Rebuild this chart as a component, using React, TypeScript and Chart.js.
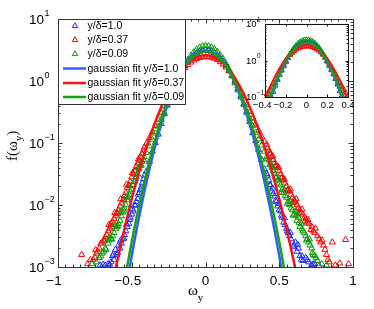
import React, { useEffect, useRef } from 'react';
import { Chart, registerables } from 'chart.js';

Chart.register(...registerables);

// ---------- data (x = omega_y, y = f(omega_y)) ----------
const blueData: number[][] = [
  [-0.40,0.035],[-0.38,0.050],[-0.36,0.073],[-0.34,0.101],[-0.32,0.138],[-0.30,0.205],[-0.28,0.295],[-0.26,0.41],[-0.24,0.555],[-0.22,0.73],
  [-0.20,0.94],[-0.18,1.18],[-0.16,1.45],[-0.14,1.74],[-0.12,2.03],[-0.10,2.32],[-0.08,2.6],[-0.06,2.82],[-0.04,3.0],[-0.02,3.1],
  [0,3.16],[0.02,3.13],[0.04,3.03],[0.06,2.86],[0.08,2.63],[0.10,2.36],[0.12,2.07],[0.14,1.77],[0.16,1.48],[0.18,1.21],
  [0.20,0.965],[0.22,0.75],[0.24,0.57],[0.26,0.425],[0.28,0.31],[0.30,0.22],[0.32,0.145],[0.34,0.108],[0.36,0.078],[0.38,0.054],[0.40,0.038],
  [0.42,0.030],[0.43,0.0251],[0.44,0.0209],[0.45,0.0166],[0.46,0.0151],[0.47,0.0138],[0.48,0.0112],[0.49,0.00955],[0.50,0.00832],[0.51,0.00794],
  [0.52,0.00631],[0.53,0.00525],[0.54,0.00479],[0.55,0.00417],[0.56,0.00355],[0.57,0.00316],[0.58,0.00282],[0.60,0.00224],[0.61,0.00251],[0.62,0.00178],
  [0.63,0.0020],[0.64,0.00151],[0.65,0.00132],[0.66,0.00126],[0.68,0.00141],[0.70,0.0012],[0.72,0.00107],[0.74,0.00112],[0.77,0.00105],
  [0.415,0.032],[0.435,0.021],[0.455,0.0185],[0.475,0.0118],[0.495,0.0105],[0.515,0.0068],[0.535,0.0062],[0.555,0.0038],[0.575,0.0036],[0.595,0.0021],
  [0.625,0.0023],[0.655,0.0015],[0.69,0.0013],[0.73,0.0011],
  [-0.42,0.0263],[-0.43,0.0224],[-0.44,0.0178],[-0.45,0.0158],[-0.46,0.0126],[-0.47,0.0112],[-0.48,0.010],[-0.49,0.00794],[-0.50,0.00708],[-0.51,0.00631],
  [-0.52,0.00501],[-0.53,0.00447],[-0.54,0.0038],[-0.55,0.00331],[-0.56,0.00282],[-0.57,0.0024],[-0.58,0.0020],[-0.59,0.00224],[-0.60,0.00158],[-0.61,0.00191],
  [-0.62,0.00132],[-0.63,0.00151],[-0.64,0.0012],[-0.66,0.00112],[-0.68,0.00107],[-0.715,0.00107],
  [-0.415,0.030],[-0.435,0.0195],[-0.455,0.0148],[-0.475,0.0098],[-0.495,0.0086],[-0.515,0.0058],[-0.535,0.0049],[-0.555,0.0029],[-0.575,0.0027],[-0.595,0.0017],
  [-0.625,0.0016],[-0.65,0.0011],[-0.695,0.0011],
];

const redData: number[][] = [
  [-0.40,0.098],[-0.38,0.121],[-0.36,0.151],[-0.34,0.19],[-0.32,0.24],[-0.30,0.305],[-0.28,0.395],[-0.26,0.51],[-0.24,0.65],[-0.22,0.81],
  [-0.20,1.0],[-0.18,1.2],[-0.16,1.41],[-0.14,1.62],[-0.12,1.82],[-0.10,2.0],[-0.08,2.16],[-0.06,2.29],[-0.04,2.38],[-0.02,2.43],
  [0,2.45],[0.02,2.44],[0.04,2.4],[0.06,2.31],[0.08,2.19],[0.10,2.03],[0.12,1.86],[0.14,1.66],[0.16,1.44],[0.18,1.23],
  [0.20,1.02],[0.22,0.83],[0.24,0.67],[0.26,0.53],[0.28,0.41],[0.30,0.32],[0.32,0.252],[0.34,0.2],[0.36,0.159],[0.38,0.128],[0.40,0.104],
  [0.42,0.0832],[0.43,0.0759],[0.44,0.0661],[0.45,0.0603],[0.46,0.0537],[0.47,0.0479],[0.48,0.0437],[0.49,0.0398],[0.50,0.0355],[0.51,0.0316],
  [0.52,0.0282],[0.53,0.0251],[0.54,0.0224],[0.55,0.020],[0.56,0.0178],[0.57,0.0166],[0.58,0.0148],[0.59,0.0132],[0.60,0.012],[0.61,0.0112],
  [0.62,0.010],[0.63,0.00891],[0.64,0.00832],[0.65,0.00759],[0.66,0.00708],[0.67,0.00631],[0.68,0.00603],[0.69,0.00525],[0.70,0.00501],[0.72,0.00447],
  [0.73,0.0038],[0.74,0.00355],[0.76,0.00316],[0.77,0.00282],[0.78,0.00251],[0.80,0.00224],[0.81,0.00191],[0.82,0.00158],[0.83,0.00132],[0.84,0.0012],
  [0.86,0.00251],[0.88,0.00107],[0.91,0.00115],[0.95,0.00275],[0.97,0.00112],
  [0.415,0.095],[0.435,0.068],[0.455,0.062],[0.475,0.043],[0.495,0.041],[0.515,0.027],[0.535,0.026],[0.555,0.017],[0.575,0.018],[0.595,0.0108],
  [0.615,0.0125],[0.635,0.0075],[0.655,0.0085],[0.675,0.0055],[0.695,0.0058],[0.715,0.0040],[0.745,0.0042],[0.79,0.0027],
  [-0.42,0.0759],[-0.43,0.0676],[-0.44,0.0603],[-0.45,0.0525],[-0.46,0.0468],[-0.47,0.0417],[-0.48,0.0355],[-0.49,0.0316],[-0.50,0.0282],[-0.51,0.024],
  [-0.52,0.0209],[-0.53,0.0191],[-0.54,0.0158],[-0.55,0.0141],[-0.56,0.012],[-0.57,0.0107],[-0.58,0.00955],[-0.59,0.00832],[-0.60,0.00759],[-0.61,0.00661],
  [-0.62,0.00603],[-0.63,0.00525],[-0.64,0.00501],[-0.65,0.00417],[-0.66,0.0038],[-0.67,0.00331],[-0.68,0.00302],[-0.69,0.00263],[-0.70,0.00251],[-0.72,0.0020],
  [-0.73,0.00178],[-0.74,0.00166],[-0.75,0.00141],[-0.76,0.00132],[-0.80,0.00112],[-0.84,0.00158],
  [-0.415,0.085],[-0.435,0.058],[-0.455,0.055],[-0.475,0.036],[-0.495,0.033],[-0.515,0.0205],[-0.535,0.0215],[-0.555,0.0122],[-0.575,0.0125],[-0.595,0.0072],
  [-0.615,0.0075],[-0.635,0.0045],[-0.655,0.0048],[-0.685,0.0027],[-0.71,0.0024],[-0.745,0.0019],[-0.78,0.0013],
];

const greenData: number[][] = [
  [-0.40,0.070],[-0.38,0.089],[-0.36,0.112],[-0.34,0.143],[-0.32,0.185],[-0.30,0.238],[-0.28,0.31],[-0.26,0.405],[-0.24,0.53],[-0.22,0.70],
  [-0.20,0.90],[-0.18,1.17],[-0.16,1.49],[-0.14,1.84],[-0.12,2.21],[-0.10,2.57],[-0.08,2.92],[-0.06,3.24],[-0.04,3.48],[-0.02,3.65],
  [0,3.72],[0.02,3.69],[0.04,3.53],[0.06,3.3],[0.08,2.98],[0.10,2.63],[0.12,2.26],[0.14,1.88],[0.16,1.53],[0.18,1.2],
  [0.20,0.925],[0.22,0.715],[0.24,0.545],[0.26,0.418],[0.28,0.322],[0.30,0.246],[0.32,0.19],[0.34,0.148],[0.36,0.116],[0.38,0.092],[0.40,0.073],
  [0.42,0.0562],[0.43,0.0525],[0.44,0.0447],[0.45,0.0417],[0.46,0.0355],[0.47,0.0316],[0.48,0.0282],[0.49,0.0251],[0.50,0.0224],[0.51,0.0209],
  [0.52,0.0178],[0.53,0.0158],[0.54,0.0141],[0.55,0.0132],[0.56,0.0112],[0.57,0.010],[0.58,0.00891],[0.59,0.00832],[0.60,0.00708],[0.61,0.00794],
  [0.62,0.00562],[0.63,0.00631],[0.64,0.00447],[0.65,0.00501],[0.66,0.0038],[0.67,0.00355],[0.68,0.00316],[0.69,0.00282],[0.70,0.00251],[0.71,0.00224],
  [0.72,0.0020],[0.73,0.00158],[0.74,0.00151],[0.76,0.00126],[0.79,0.00112],[0.82,0.00107],
  [0.415,0.060],[0.435,0.045],[0.455,0.040],[0.475,0.028],[0.495,0.026],[0.515,0.016],[0.535,0.0175],[0.555,0.0105],[0.575,0.0115],[0.595,0.0068],
  [0.615,0.0068],[0.635,0.0052],[0.655,0.0041],[0.685,0.0027],[0.705,0.0028],[0.725,0.0017],[0.75,0.0014],
  [-0.42,0.0537],[-0.43,0.0501],[-0.44,0.0427],[-0.45,0.038],[-0.46,0.0316],[-0.47,0.0282],[-0.48,0.024],[-0.49,0.0209],[-0.50,0.0178],[-0.51,0.0166],
  [-0.52,0.0132],[-0.53,0.012],[-0.54,0.010],[-0.55,0.00891],[-0.56,0.00759],[-0.57,0.00661],[-0.58,0.00562],[-0.59,0.00501],[-0.60,0.00447],[-0.61,0.00417],
  [-0.62,0.00355],[-0.63,0.00316],[-0.64,0.00282],[-0.65,0.00302],[-0.66,0.0024],[-0.68,0.0020],[-0.69,0.00178],[-0.70,0.00166],[-0.72,0.00141],[-0.77,0.00112],
  [-0.415,0.060],[-0.435,0.044],[-0.455,0.040],[-0.475,0.026],[-0.495,0.021],[-0.515,0.0145],[-0.535,0.0135],[-0.555,0.0082],[-0.575,0.0078],[-0.595,0.0046],
  [-0.615,0.0048],[-0.635,0.0028],[-0.655,0.0027],[-0.675,0.0019],[-0.71,0.0015],[-0.74,0.0012],
];

// gaussian fit curves at these abscissae
const fitX = [-0.65,-0.6,-0.55,-0.5,-0.45,-0.4,-0.35,-0.3,-0.25,-0.2,-0.15,-0.1,-0.05,0,0.05,0.1,0.15,0.2,0.25,0.3,0.35,0.4,0.45,0.5,0.55,0.6,0.65];
const blueFit = [7.8e-6,5.27e-5,0.000305,0.001515,0.006455,0.02361,0.07418,0.1999,0.4627,0.9194,1.568,2.297,2.887,3.116,2.887,2.297,1.568,0.9194,0.4627,0.1999,0.07418,0.02361,0.006455,0.001515,0.000305,5.27e-5,7.8e-6];
const redFit = [0.0003138,0.001192,0.004073,0.0125,0.03448,0.08547,0.1905,0.3814,0.6863,1.110,1.613,2.106,2.472,2.607,2.472,2.106,1.613,1.110,0.6863,0.3814,0.1905,0.08547,0.03448,0.0125,0.004073,0.001192,0.0003138];
const greenFit = [1.95e-5,0.0001143,0.00058,0.002559,0.009797,0.03257,0.09401,0.2357,0.5126,0.9683,1.588,2.261,2.795,2.999,2.795,2.261,1.588,0.9683,0.5126,0.2357,0.09401,0.03257,0.009797,0.002559,0.00058,0.0001143,1.95e-5];

const xTickValues = [-1, -0.5, 0, 0.5, 1];
const xTickLabels = ['−1', '−0.5', '0', '0.5', '1'];
const yTickExps = [-3, -2, -1, 0, 1];
const insetXTickValues = [-0.4, -0.2, 0, 0.2, 0.4];
const insetXTickLabels = ['−0.4', '−0.2', '0', '0.2', '0.4'];
const insetYTickExps = [-1, 0, 1];

const legendLabels = ['y/δ=1.0', 'y/δ=0.37', 'y/δ=0.09', 'gaussian fit y/δ=1.0', 'gaussian fit y/δ=0.37', 'gaussian fit y/δ=0.09'];

// ---------- styles ----------
const AXIS = '#333333';
const BLUE_PT = '#1a2cff';
const RED_PT = '#ff0000';
const GREEN_PT = '#009a00';
const BLUE_LN = '#2f5fff';
const RED_LN = '#ff1010';
const GREEN_LN = '#18a018';
const SANS = '"Liberation Sans", Arial, sans-serif';
const SERIF = '"Liberation Serif", "Times New Roman", serif';

const toXY = (pairs: number[][]) => pairs.map(([x, y]) => ({ x, y }));
const fitXY = (ys: number[]) => fitX.map((x, i) => ({ x, y: ys[i] }));

function buildDatasets(r: number, lw: number): any[] {
  const pt = (label: string, data: number[][], color: string, order: number) => ({
    type: 'scatter', label, data: toXY(data), order,
    pointStyle: 'triangle', pointRadius: r, pointBorderWidth: 1,
    borderColor: color, backgroundColor: 'rgba(0,0,0,0)', pointBackgroundColor: 'rgba(0,0,0,0)',
    showLine: false,
  });
  const ln = (label: string, ys: number[], color: string, order: number) => ({
    type: 'line', label, data: fitXY(ys), order,
    borderColor: color, borderWidth: lw, pointRadius: 0, fill: false,
    cubicInterpolationMode: 'monotone',
  });
  return [
    pt(legendLabels[0], blueData, BLUE_PT, 6),
    pt(legendLabels[1], redData, RED_PT, 5),
    pt(legendLabels[2], greenData, GREEN_PT, 4),
    ln(legendLabels[3], blueFit, BLUE_LN, 3),
    ln(legendLabels[4], redFit, RED_LN, 2),
    ln(legendLabels[5], greenFit, GREEN_LN, 1),
  ];
}

function drawPow(ctx: CanvasRenderingContext2D, left: number, cy: number, exp: number, size: number, expSize: number) {
  ctx.fillStyle = '#000';
  ctx.textAlign = 'left';
  ctx.textBaseline = 'alphabetic';
  ctx.font = `${size}px ${SANS}`;
  const base = cy + size * 0.36;
  ctx.fillText('10', left, base);
  const w = ctx.measureText('10').width;
  ctx.font = `${expSize}px ${SANS}`;
  const e = exp < 0 ? '−' + Math.abs(exp) : String(exp);
  ctx.fillText(e, left + w + 0.5, base - size * 0.58);
}

function drawXLabel(ctx: CanvasRenderingContext2D, cx: number, baseline: number, label: string, size: number) {
  ctx.fillStyle = '#000';
  ctx.font = `${size}px ${SANS}`;
  ctx.textBaseline = 'alphabetic';
  ctx.textAlign = 'left';
  if (label.startsWith('−')) {
    const body = label.slice(1);
    const w = ctx.measureText(body).width;
    const mw = ctx.measureText('−').width;
    ctx.fillText(body, cx - w / 2, baseline);
    ctx.fillText('−', cx - w / 2 - mw, baseline);
  } else {
    const w = ctx.measureText(label).width;
    ctx.fillText(label, cx - w / 2, baseline);
  }
}

function triangle(ctx: CanvasRenderingContext2D, x: number, y: number, r: number, color: string) {
  ctx.beginPath();
  let a = 0;
  ctx.moveTo(x + Math.sin(a) * r, y - Math.cos(a) * r);
  a += (2 * Math.PI) / 3;
  ctx.lineTo(x + Math.sin(a) * r, y - Math.cos(a) * r);
  a += (2 * Math.PI) / 3;
  ctx.lineTo(x + Math.sin(a) * r, y - Math.cos(a) * r);
  ctx.closePath();
  ctx.strokeStyle = color;
  ctx.lineWidth = 1;
  ctx.stroke();
}

function drawLogTicks(ctx: CanvasRenderingContext2D, chart: any, exps: number[], major: number, minor: number) {
  const a = chart.chartArea;
  const ys = chart.scales.y;
  for (let i = 0; i < exps.length; i++) {
    const e = exps[i];
    const kmax = i === exps.length - 1 ? 1 : 9;
    for (let k = 1; k <= kmax; k++) {
      const py = Math.round(ys.getPixelForValue(k * Math.pow(10, e))) + 0.5;
      const len = k === 1 ? major : minor;
      ctx.moveTo(a.left, py); ctx.lineTo(a.left + len, py);
      ctx.moveTo(a.right, py); ctx.lineTo(a.right - len, py);
    }
  }
}

const mainDecor = {
  id: 'mainDecor',
  afterDraw(chart: any) {
    const ctx: CanvasRenderingContext2D = chart.ctx;
    const a = chart.chartArea;
    const xs = chart.scales.x;
    const ys = chart.scales.y;
    ctx.save();
    ctx.strokeStyle = AXIS;
    ctx.lineWidth = 1;
    ctx.beginPath();
    for (let i = 0; i <= 40; i++) {
      const v = -1 + i * 0.05;
      const px = Math.round(xs.getPixelForValue(v)) + 0.5;
      const len = i % 10 === 0 ? 4.5 : 2.5;
      ctx.moveTo(px, a.bottom); ctx.lineTo(px, a.bottom - len);
      ctx.moveTo(px, a.top); ctx.lineTo(px, a.top + len);
    }
    drawLogTicks(ctx, chart, yTickExps, 4.5, 2.5);
    ctx.stroke();
    ctx.strokeRect(Math.round(a.left) + 0.5, Math.round(a.top) + 0.5, Math.round(a.right - a.left), Math.round(a.bottom - a.top));

    // tick labels
    xTickValues.forEach((v, i) => drawXLabel(ctx, xs.getPixelForValue(v), 285, xTickLabels[i], 13.5));
    yTickExps.forEach((e) => drawPow(ctx, 29, ys.getPixelForValue(Math.pow(10, e)), e, 13.5, 9));

    // axis titles
    ctx.fillStyle = '#000';
    ctx.textAlign = 'left';
    ctx.textBaseline = 'alphabetic';
    ctx.font = `15px ${SERIF}`;
    ctx.fillText('ω', 188, 295);
    const ww = ctx.measureText('ω').width;
    ctx.font = `11px ${SERIF}`;
    ctx.fillText('y', 188 + ww, 301);

    ctx.save();
    ctx.translate(17, 161);
    ctx.rotate(-Math.PI / 2);
    ctx.font = `15px ${SERIF}`;
    ctx.fillText('f(ω', 0, 0);
    const w1 = ctx.measureText('f(ω').width;
    ctx.font = `11px ${SERIF}`;
    ctx.fillText('y', w1, 5);
    const w2 = ctx.measureText('y').width;
    ctx.font = `15px ${SERIF}`;
    ctx.fillText(')', w1 + w2, 0);
    ctx.restore();

    // legend
    const lx = 58.5, ly = 19.5, lw = 127, lh = 85;
    ctx.fillStyle = '#fff';
    ctx.fillRect(lx, ly, lw, lh);
    ctx.strokeStyle = AXIS;
    ctx.lineWidth = 1;
    ctx.strokeRect(lx, ly, lw, lh);
    const rows = [26, 40, 54, 68.5, 83, 97];
    const ptColors = [BLUE_PT, RED_PT, GREEN_PT];
    const lnColors = [BLUE_LN, RED_LN, GREEN_LN];
    ctx.font = `10.5px ${SANS}`;
    ctx.textBaseline = 'middle';
    for (let i = 0; i < 6; i++) {
      const y = rows[i];
      if (i < 3) {
        triangle(ctx, 75, y, 3.2, ptColors[i]);
      } else {
        ctx.beginPath();
        ctx.strokeStyle = lnColors[i - 3];
        ctx.lineWidth = 2.5;
        ctx.moveTo(63, y); ctx.lineTo(86, y);
        ctx.stroke();
      }
      ctx.fillStyle = '#000';
      ctx.fillText(legendLabels[i], 87.5, y + 0.5);
    }
    ctx.restore();
  },
};

const insetDecor = {
  id: 'insetDecor',
  beforeDraw(chart: any) {
    const ctx: CanvasRenderingContext2D = chart.ctx;
    const a = chart.chartArea;
    ctx.save();
    ctx.fillStyle = '#fff';
    ctx.fillRect(a.left, a.top, a.right - a.left, a.bottom - a.top);
    ctx.restore();
  },
  afterDraw(chart: any) {
    const ctx: CanvasRenderingContext2D = chart.ctx;
    const a = chart.chartArea;
    const xs = chart.scales.x;
    const ys = chart.scales.y;
    ctx.save();
    ctx.strokeStyle = '#111';
    ctx.lineWidth = 1;
    ctx.beginPath();
    insetXTickValues.forEach((v) => {
      const px = Math.round(xs.getPixelForValue(v)) + 0.5;
      ctx.moveTo(px, a.bottom); ctx.lineTo(px, a.bottom - 2.5);
      ctx.moveTo(px, a.top); ctx.lineTo(px, a.top + 2.5);
    });
    drawLogTicks(ctx, chart, insetYTickExps, 2.5, 1.5);
    ctx.stroke();
    ctx.strokeRect(Math.round(a.left) + 0.5, Math.round(a.top) + 0.5, Math.round(a.right - a.left), Math.round(a.bottom - a.top));
    insetXTickValues.forEach((v, i) => drawXLabel(ctx, xs.getPixelForValue(v), 99.5, insetXTickLabels[i], 9.5));
    insetYTickExps.forEach((e) => drawPow(ctx, 16, ys.getPixelForValue(Math.pow(10, e)), e, 9.5, 6.5));
    ctx.restore();
  },
};

export default function App() {
  const mainRef = useRef<HTMLCanvasElement>(null);
  const insetRef = useRef<HTMLCanvasElement>(null);

  useEffect(() => {
    const main = new Chart(mainRef.current as HTMLCanvasElement, {
      type: 'scatter',
      data: { datasets: buildDatasets(3.5, 2.5) },
      options: {
        animation: false,
        responsive: false,
        events: [],
        layout: { padding: { left: 58, top: 19, right: 21, bottom: 42 } },
        plugins: { legend: { display: false }, tooltip: { enabled: false } },
        scales: {
          x: { type: 'linear', min: -1, max: 1, display: false },
          y: { type: 'logarithmic', min: 0.001, max: 10, display: false },
        },
      } as any,
      plugins: [mainDecor],
    } as any);
    const inset = new Chart(insetRef.current as HTMLCanvasElement, {
      type: 'scatter',
      data: { datasets: buildDatasets(3, 1.8).map((d) => ({ ...d, clip: 1 })) },
      options: {
        animation: false,
        responsive: false,
        events: [],
        layout: { padding: { left: 35, top: 16, right: 12, bottom: 21 } },
        plugins: { legend: { display: false }, tooltip: { enabled: false } },
        scales: {
          x: { type: 'linear', min: -0.4, max: 0.4, display: false },
          y: { type: 'logarithmic', min: 0.1, max: 10, display: false },
        },
      } as any,
      plugins: [insetDecor],
    } as any);
    return () => {
      main.destroy();
      inset.destroy();
    };
  }, []);

  return (
    <div style={{ position: 'fixed', left: 0, top: 0, width: 374, height: 309, background: '#fff' }}>
      <canvas ref={mainRef} width={374} height={309} style={{ position: 'absolute', left: 0, top: 0, width: 374, height: 309 }} />
      <canvas ref={insetRef} width={130} height={110} style={{ position: 'absolute', left: 230, top: 8, width: 130, height: 110 }} />
    </div>
  );
}
